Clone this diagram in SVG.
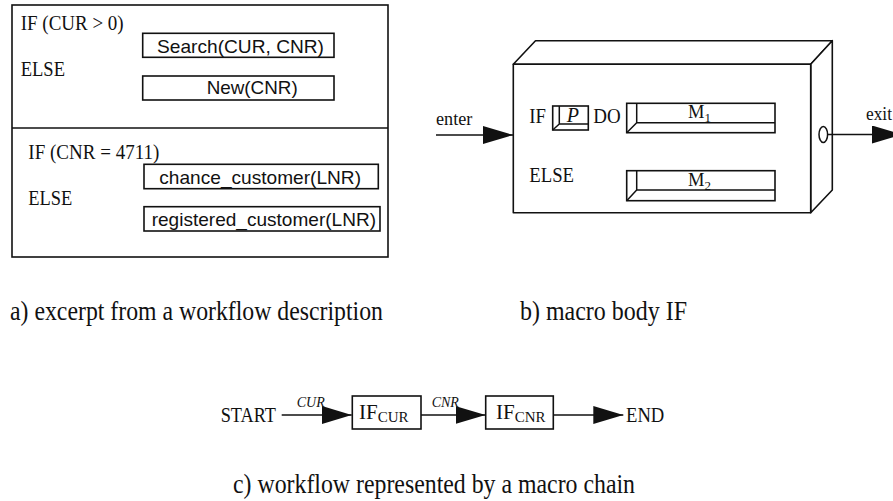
<svg xmlns="http://www.w3.org/2000/svg" width="893" height="501" viewBox="0 0 893 501">
  <style>
    .box { fill: none; stroke: #111; stroke-width: 1.6; }
    .face { fill: #fff; stroke: #111; stroke-width: 1.6; stroke-linejoin: round; }
    .ln { fill: none; stroke: #111; stroke-width: 1.5; }
    .wire { fill: none; stroke: #111; stroke-width: 1.5; marker-end: url(#tri); }
    .serif { font-family: "Liberation Serif", "Times New Roman", serif; fill: #111; }
    .sans { font-family: "Liberation Sans", Arial, sans-serif; fill: #111; font-size: 19px; }
    .t { font-size: 21px; }
    .cap { font-size: 28px; }
    .lbl { font-size: 14px; font-style: italic; }
  </style>
  <defs>
    <marker id="tri" markerUnits="userSpaceOnUse" markerWidth="31" markerHeight="18" refX="30" refY="9" orient="auto">
      <path d="M0,0 L30,9 L0,18 Z" fill="#111"/>
    </marker>
  </defs>

  <!-- a) workflow description excerpt -->
  <g id="workflow-excerpt">
    <rect class="box" x="12" y="5" width="376" height="252"/>
    <line class="ln" x1="12" y1="128" x2="388" y2="128"/>
    <text class="serif t" x="20.7" y="30" textLength="103" lengthAdjust="spacingAndGlyphs">IF (CUR &gt; 0)</text>
    <text class="serif t" x="20.7" y="76" textLength="44.3" lengthAdjust="spacingAndGlyphs">ELSE</text>
    <text class="serif t" x="28.3" y="159.3" textLength="131" lengthAdjust="spacingAndGlyphs">IF (CNR = 4711)</text>
    <text class="serif t" x="28.3" y="205" textLength="44" lengthAdjust="spacingAndGlyphs">ELSE</text>
  </g>
  <g id="search">
    <rect class="box" x="142.7" y="33.3" width="191.3" height="24"/>
    <text class="sans" x="157" y="52.7" textLength="167" lengthAdjust="spacingAndGlyphs">Search(CUR, CNR)</text>
  </g>
  <g id="new">
    <rect class="box" x="142.7" y="76" width="191.3" height="24"/>
    <text class="sans" x="206.7" y="94.3" textLength="91" lengthAdjust="spacingAndGlyphs">New(CNR)</text>
  </g>
  <g id="chance-customer">
    <rect class="box" x="144" y="164.3" width="234.3" height="24.4"/>
    <text class="sans" x="159.3" y="183.7" textLength="201.7" lengthAdjust="spacingAndGlyphs">chance_customer(LNR)</text>
  </g>
  <g id="registered-customer">
    <rect class="box" x="144" y="206.7" width="236" height="24.3"/>
    <text class="sans" x="151.7" y="225.7" textLength="224.3" lengthAdjust="spacingAndGlyphs">registered_customer(LNR)</text>
  </g>

  <!-- b) macro body IF, drawn as a 3D block -->
  <g id="macro-if">
    <polygon class="face" points="513.3,64.3 535.5,40.7 832.3,40.7 810.7,64.3"/>
    <polygon class="face" points="810.7,64.3 832.3,40.7 832.3,190 810.7,212.7"/>
    <rect class="face" x="513.3" y="64.3" width="297.4" height="148.4"/>
    <text class="serif t" x="529.3" y="122.7" textLength="16.7" lengthAdjust="spacingAndGlyphs">IF</text>
    <text class="serif t" x="593.3" y="122.7" textLength="27.4" lengthAdjust="spacingAndGlyphs">DO</text>
    <text class="serif t" x="529.3" y="182.3" textLength="44.7" lengthAdjust="spacingAndGlyphs">ELSE</text>
    <ellipse class="ln" cx="823.3" cy="134.5" rx="4.3" ry="8"/>
  </g>
  <g id="predicate-p">
    <rect class="box" x="552.7" y="106" width="35.6" height="24"/>
    <path class="ln" d="M559.3,106 V124 H588.3 M552.7,130 L559.3,124"/>
    <text class="serif" x="566.7" y="121.7" font-size="20" font-style="italic">P</text>
  </g>
  <g id="macro-m1">
    <rect class="box" x="626.7" y="103.3" width="148.3" height="29.4"/>
    <path class="ln" d="M636.7,103.3 V122.7 H775 M626.7,132.7 L636.7,122.7"/>
    <text class="serif" x="688" y="117.8" font-size="18.5">M<tspan font-size="13" dy="4">1</tspan></text>
  </g>
  <g id="macro-m2">
    <rect class="box" x="626.7" y="170.7" width="148.3" height="30"/>
    <path class="ln" d="M636.7,170.7 V190 H775 M626.7,200.7 L636.7,190"/>
    <text class="serif" x="688" y="185.5" font-size="18.5">M<tspan font-size="13" dy="4">2</tspan></text>
  </g>

  <!-- c) macro chain nodes -->
  <g id="start">
    <text class="serif t" x="220.7" y="421.7" textLength="55.3" lengthAdjust="spacingAndGlyphs">START</text>
  </g>
  <g id="if-cur">
    <rect class="box" x="352.3" y="396" width="68.7" height="33"/>
    <text class="serif" x="359" y="419" font-size="21">IF<tspan font-size="15" dy="2.7">CUR</tspan></text>
  </g>
  <g id="if-cnr">
    <rect class="box" x="485.7" y="396" width="67.6" height="33"/>
    <text class="serif" x="496" y="419" font-size="21">IF<tspan font-size="15" dy="2.7">CNR</tspan></text>
  </g>
  <g id="end">
    <text class="serif t" x="626" y="422.3" textLength="38.3" lengthAdjust="spacingAndGlyphs">END</text>
  </g>

  <!-- connectors -->
  <g id="connectors">
    <line class="wire" x1="436" y1="135" x2="513" y2="135"/>
    <text class="serif" x="436" y="125" font-size="19" textLength="36.3" lengthAdjust="spacingAndGlyphs">enter</text>
    <line class="wire" x1="827.6" y1="134.5" x2="902" y2="134.5"/>
    <text class="serif" x="866" y="120" font-size="19" textLength="26" lengthAdjust="spacingAndGlyphs">exit</text>

    <line class="wire" x1="281.7" y1="415" x2="351.7" y2="415"/>
    <text class="serif lbl" x="296.7" y="407.3">CUR</text>
    <line class="wire" x1="421" y1="415" x2="485.5" y2="415"/>
    <text class="serif lbl" x="431.7" y="407.3">CNR</text>
    <line class="wire" x1="553.3" y1="415" x2="623.3" y2="415"/>
  </g>

  <!-- captions -->
  <text class="serif cap" x="10" y="320" textLength="373" lengthAdjust="spacingAndGlyphs">a) excerpt from a workflow description</text>
  <text class="serif cap" x="520" y="320" textLength="167" lengthAdjust="spacingAndGlyphs">b) macro body IF</text>
  <text class="serif cap" x="233" y="493" textLength="402" lengthAdjust="spacingAndGlyphs">c) workflow represented by a macro chain</text>
</svg>
